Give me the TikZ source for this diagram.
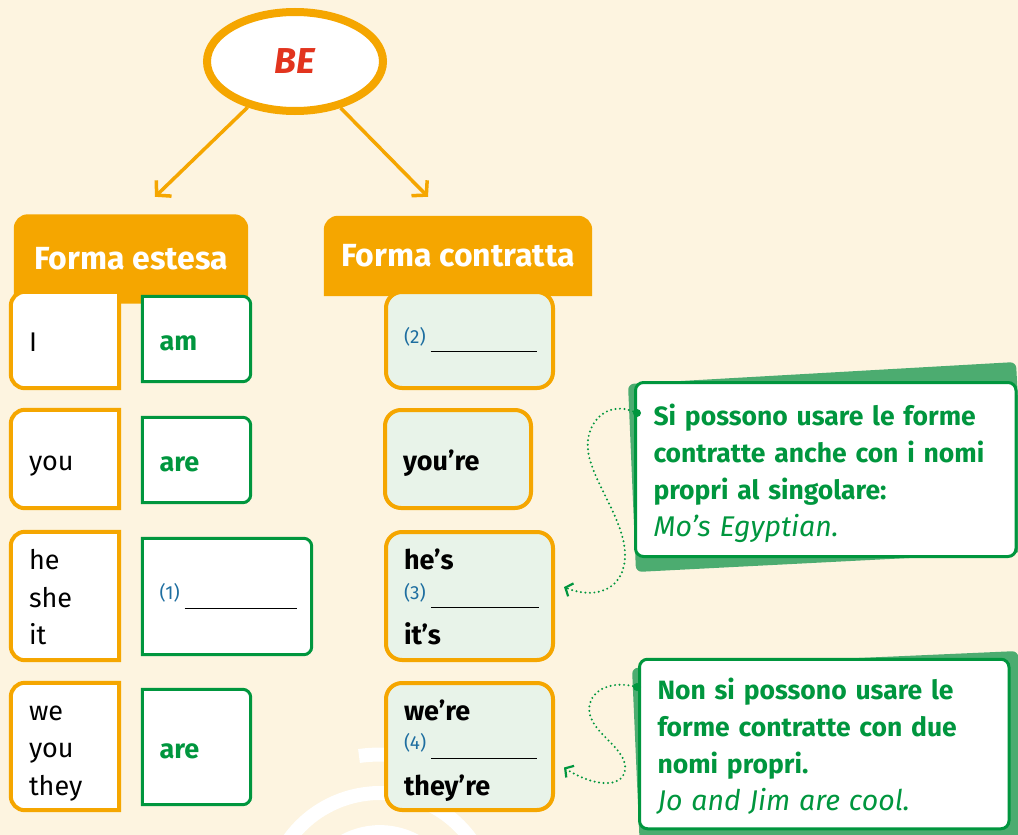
\documentclass[tikz,border=0pt]{standalone}
\usepackage{fontspec}
\setmainfont{Fira Sans}
\usetikzlibrary{arrows.meta,shapes.geometric}
\definecolor{cream}{RGB}{253,244,224}
\definecolor{beorange}{RGB}{245,166,0}
\definecolor{bered}{RGB}{226,52,30}
\definecolor{begreen}{RGB}{0,150,62}
\definecolor{shadegreen}{RGB}{76,172,112}
\definecolor{palegreen}{RGB}{232,243,233}
\definecolor{numblue}{RGB}{30,110,160}
\pgfdeclarelayer{boxes}
\pgfsetlayers{boxes,main}
\newcommand{\gapline}[2][106pt]{\mbox{\raisebox{8pt}{\color{numblue}\mdseries\fontsize{19}{19}\selectfont(#2)}\hspace{5pt}{\color{black}\rule[-1pt]{#1}{1.2pt}}}}
\newcommand{\examplefont}{\mdseries\itshape\fontsize{28.5}{37}\selectfont}
\newcommand{\topstrut}{\rule{0pt}{34pt}}

\begin{document}
\begin{tikzpicture}[x=1pt,y=-1pt,
    pron/.style={font=\fontsize{27}{37.5}\selectfont, text width=72pt, inner xsep=18pt, inner ysep=0pt, align=left, execute at begin node=\topstrut, execute at end node=\strut},
    verb/.style={pron, font=\bfseries\fontsize{27}{37.5}\selectfont, text=begreen, inner xsep=17pt},
    short/.style={pron, font=\bfseries\fontsize{27}{37.5}\selectfont, draw=beorange, line width=4pt, fill=palegreen, rounded corners=16pt},
    head/.style={font=\bfseries\fontsize{32}{32}\selectfont, text=white, inner sep=0pt},
    orangeline/.style={draw=beorange, line width=4pt, fill=white},
    greenline/.style={draw=begreen, line width=3pt, fill=white},
    note/.style={draw=begreen, line width=3pt, fill=white, rounded corners=8pt, text=begreen, font=\bfseries\fontsize{26.5}{37}\selectfont, align=left, inner xsep=18pt, inner ysep=0pt, execute at begin node=\topstrut, execute at end node=\strut},
    bearrow/.style={draw=beorange, line width=3.5pt, -{Straight Barb[length=10pt,width=22pt]}},
    hint/.style={draw=begreen, line width=2.2pt, line cap=round, dash pattern=on 0pt off 4.5pt, -{Straight Barb[length=6pt,width=14pt]}},
    dot/.style={circle, fill=begreen, inner sep=0pt, minimum size=8pt}]
    \useasboundingbox (0,0) rectangle (1018,835);

    \node[ellipse, draw=beorange, line width=8pt, fill=white, minimum width=176pt, minimum height=99pt, inner sep=0pt, text=bered, font=\bfseries\itshape\fontsize{36}{36}\selectfont] (be) at (295,61.5) {BE};

    \node[head, minimum width=234pt, minimum height=89pt] (h1) at (131,259) {Forma estesa};
    \node[head, minimum width=268pt, minimum height=80pt] (h2) at (458,256) {Forma contratta};
    \draw[bearrow] (be) -- ([shift={(24,-17.5)}]h1.north);
    \draw[bearrow] (be) -- ([shift={(-30,-19)}]h2.north);

    % forma estesa
    \node[pron, minimum height=96pt] (p1) at (65,340) {I};
    \node[pron, minimum height=98pt] (p2) at (65,459) {you};
    \node[pron, minimum height=128pt] (p3) at (65,596) {he\\she\\it};
    \node[pron, minimum height=127pt] (p4) at (65,746.5) {we\\you\\they};
    \node[verb, text width=74pt, minimum height=85pt] (v1) at (196.5,339) {am};
    \node[verb, text width=74pt, minimum height=85pt] (v2) at (196.5,460) {are};
    \node[verb, text width=135pt, minimum height=116pt] (v3) at (227,596.5) {\gapline[112pt]{1}};
    \node[verb, text width=74pt, minimum height=115pt] (v4) at (196.5,747) {are};

    % forma contratta
    \node[short, text width=131pt, minimum height=96pt] (c1) at (469.5,340) {\gapline{2}};
    \node[short, text width=110pt, minimum height=98pt] (c2) at (458,459) {you’re};
    \node[short, text width=131pt, minimum height=128pt] (c3) at (469.5,596) {he’s\\\gapline[108pt]{3}\\it’s};
    \node[short, text width=131pt, minimum height=127pt] (c4) at (469.5,746.5) {we’re\\\gapline{4}\\they’re};

    % notes
    \fill[shadegreen, rounded corners=6pt] (628,384) -- (1016,362) -- (1026,552) -- (636,572) -- cycle;
    \fill[shadegreen, rounded corners=6pt] (632,668) -- (1018,651) -- (1026,845) -- (640,850) -- cycle;
    \node[note, text width=344.5pt, minimum height=174pt] (n1) at (825.75,469.5)
        {Si possono usare le forme\\contratte anche con i nomi\\propri al singolare:\\{\examplefont Mo’s Egyptian.}};
    \node[note, text width=333.5pt, minimum height=169.5pt] (n2) at (824.25,744)
        {Non si possono usare le\\forme contratte con due\\nomi propri.\\{\examplefont Jo and Jim are cool.}};
    \node[dot] (d1) at (637,413) {};
    \node[dot] (d2) at (637,687) {};
    \draw[hint] (d1) .. controls (605,400) and (585,425) .. (588,450)
        .. controls (591,480) and (625,520) .. (625,555)
        .. controls (625,590) and (595,600) .. ([shift={(9,-9)}]c3.east);
    \draw[hint] (d2) .. controls (605,680) and (585,695) .. (590,715)
        .. controls (595,735) and (628,750) .. (625,770)
        .. controls (622,790) and (590,785) .. ([shift={(9,21)}]c4.east);

    \begin{pgfonlayer}{boxes}
        \fill[cream] (0,0) rectangle (1018,835);
        \draw[white, line width=14pt] (283,849) arc[start angle=210, end angle=330, radius=112];
        \draw[white, line width=12pt] (311,875) arc[start angle=205, end angle=335, radius=76];
        \draw[white, line width=14pt] (359,756) arc[start angle=262, end angle=285, radius=150];
        \foreach \h in {h1,h2}
            \fill[beorange] (\h.south west) [rounded corners=14pt] -- (\h.north west) -- (\h.north east) [sharp corners] -- (\h.south east) -- cycle;
        \foreach \p in {p1,p2,p3,p4}
            \draw[orangeline] (\p.north east) [rounded corners=14pt] -- (\p.north west) -- (\p.south west) [sharp corners] -- (\p.south east) -- cycle;
        \foreach \v in {v1,v2,v3,v4}
            \draw[greenline] (\v.north west) [rounded corners=8pt] -- (\v.north east) -- (\v.south east) [sharp corners] -- (\v.south west) -- cycle;
    \end{pgfonlayer}
\end{tikzpicture}
\end{document}
